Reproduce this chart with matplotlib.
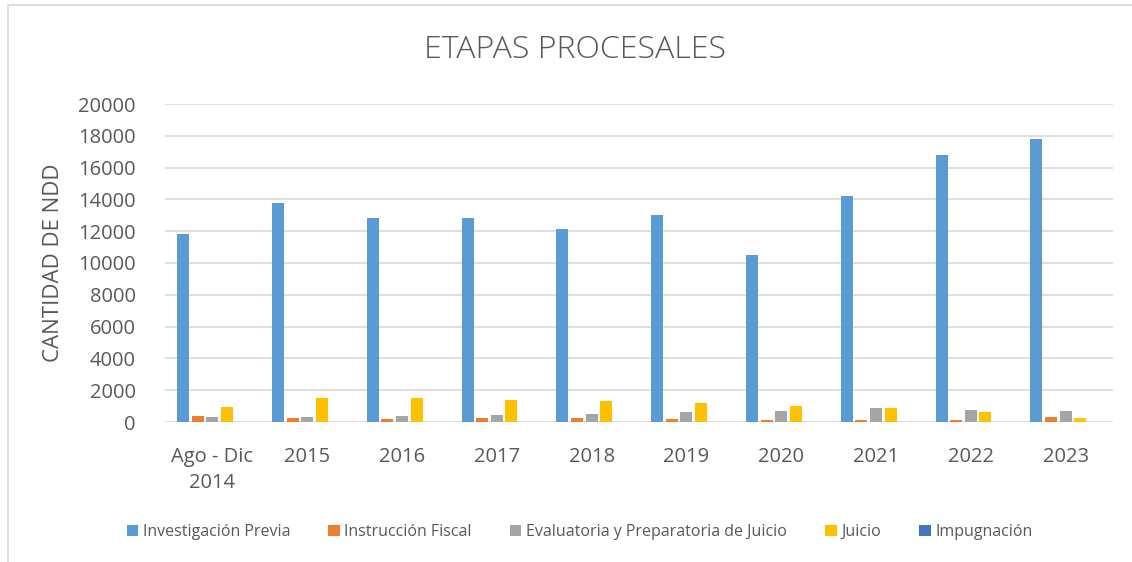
import matplotlib
matplotlib.use("Agg")
import matplotlib.pyplot as plt
import numpy as np
from matplotlib.patches import Rectangle

categories = ["Ago - Dic\n2014", "2015", "2016", "2017", "2018", "2019", "2020", "2021", "2022", "2023"]
investigacion_previa = [11850, 13750, 12840, 12800, 12130, 13050, 10530, 14190, 16800, 17790]
instruccion_fiscal = [350, 230, 170, 250, 230, 190, 100, 100, 100, 290]
evaluatoria = [340, 310, 375, 415, 500, 605, 665, 875, 750, 665]
juicio = [940, 1540, 1540, 1375, 1290, 1165, 1020, 875, 605, 270]
impugnacion = [5, 5, 5, 5, 5, 5, 5, 5, 5, 5]

series_names = ["Investigación Previa", "Instrucción Fiscal",
                "Evaluatoria y Preparatoria de Juicio", "Juicio", "Impugnación"]
series = [investigacion_previa, instruccion_fiscal, evaluatoria, juicio, impugnacion]
colors = ["#5B9BD5", "#ED7D31", "#A5A5A5", "#FFC000", "#4472C4"]
yticks = [0, 2000, 4000, 6000, 8000, 10000, 12000, 14000, 16000, 18000, 20000]

plt.rcParams['font.family'] = ['Open Sans', 'DejaVu Sans']
text_color = "#595959"

fig = plt.figure(figsize=(11.32, 5.62), dpi=100)
ax = fig.add_axes([165/1132, 1 - 422/562, (1113-165)/1132, (422-104)/562])

x = np.arange(len(categories))
step = 0.154
width = 0.127
for i, (name, vals, c) in enumerate(zip(series_names, series, colors)):
    ax.bar(x + (i - 2) * step, vals, width=width, color=c, label=name, zorder=3)

ax.set_xlim(-0.5, len(categories) - 0.5)
ax.set_ylim(0, 20000)
ax.set_yticks(yticks)
ax.set_yticklabels([str(v) for v in yticks], fontsize=14.5, color=text_color)
ax.set_xticks(x)
ax.set_xticklabels(categories, fontsize=14.5, color=text_color, linespacing=1.4)
ax.tick_params(axis='x', length=0, pad=18)
ax.tick_params(axis='y', length=0, pad=21)
ax.grid(axis='y', color="#D9D9D9", linewidth=1.2, zorder=0)
for s in ax.spines.values():
    s.set_visible(False)

ax.set_ylabel("CANTIDAD DE NDD", fontsize=16, color=text_color, labelpad=10)
fig.text(0.508, 1 - 50/562, "ETAPAS PROCESALES", ha='center', va='center',
         fontsize=23, color=text_color, fontweight='light')

leg = fig.legend(loc='center', bbox_to_anchor=(0.512, 1 - 532/562), ncol=5,
                 frameon=False, fontsize=11.5, handlelength=0.7, handleheight=0.7,
                 handletextpad=0.3, columnspacing=2.4)
for t in leg.get_texts():
    t.set_color(text_color)

fig.patches.append(Rectangle((8/1132, -0.1), 1.2, 1 - 5/562 + 0.1,
                             transform=fig.transFigure, fill=False,
                             edgecolor="#D9D9D9", linewidth=1.2))

fig.savefig("out.png", dpi=100, facecolor="white")
